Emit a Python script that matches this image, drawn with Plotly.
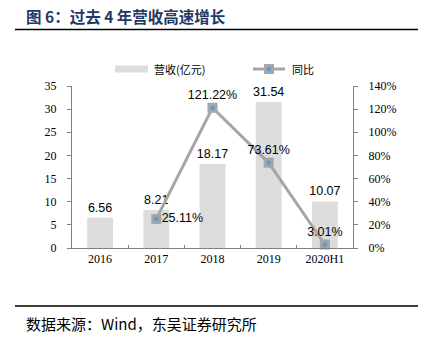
import plotly.graph_objects as go

categories = ["2016", "2017", "2018", "2019", "2020H1"]
revenue = [6.56, 8.21, 18.17, 31.54, 10.07]
yoy = [None, 25.11, 121.22, 73.61, 3.01]
yoy_labels = ["", "25.11%", "121.22%", "73.61%", "3.01%"]
yoy_positions = ["middle right", "middle right", "top center", "top center", "top center"]
left_ticks = [0, 5, 10, 15, 20, 25, 30, 35]
right_ticks = [0, 20, 40, 60, 80, 100, 120, 140]
right_tick_text = [f"{v}%" for v in right_ticks]

W, H = 428, 347
L, R, T, B = 72, 353, 86, 248

def px(x):
    return (x - L) / (R - L)

def py(y):
    return (B - y) / (B - T)

SERIF = "Liberation Serif, Times New Roman, serif"
SANS = "Liberation Sans, Arial, sans-serif"
CJK = "Noto Sans CJK SC"

fig = go.Figure()
fig.add_trace(go.Bar(
    x=categories, y=revenue, name="营收(亿元)",
    marker=dict(color="#dcdcdc", line=dict(width=0)),
    width=0.46,
    text=[f"{v:.2f}" for v in revenue], textposition="outside",
    constraintext="none",
    textfont=dict(family=SANS, size=12.5, color="#000000"),
    cliponaxis=False, showlegend=False,
))
fig.add_trace(go.Scatter(
    x=categories, y=yoy, name="同比", yaxis="y2",
    mode="lines+markers+text",
    line=dict(color="#a6a6a6", width=3),
    marker=dict(symbol="square", size=7, color="#5b9bd5",
                line=dict(color="#a6a6a6", width=3)),
    text=yoy_labels, textposition=yoy_positions,
    textfont=dict(family=SANS, size=12.5, color="#000000"),
    cliponaxis=False, showlegend=False,
))

axis_col = "#808080"
fig.update_layout(
    width=W, height=H,
    margin=dict(l=L, r=W - R, t=T, b=H - B),
    paper_bgcolor="white", plot_bgcolor="white",
    bargap=0.54,
    xaxis=dict(type="category", showline=True, linecolor=axis_col, linewidth=1,
               ticks="inside", tickson="boundaries", ticklen=3, tickcolor=axis_col,
               tickfont=dict(family=SERIF, size=12, color="#000"), showgrid=False,
               zeroline=False, range=[-0.5, 4.5]),
    yaxis=dict(range=[0, 35], tickvals=left_ticks, showline=True, linecolor=axis_col,
               linewidth=1, ticks="outside", ticklen=4, tickcolor=axis_col,
               tickfont=dict(family=SERIF, size=12, color="#000"), showgrid=False,
               zeroline=False, ticklabelstandoff=8),
    yaxis2=dict(range=[0, 140], tickvals=right_ticks, ticktext=right_tick_text,
                overlaying="y", side="right", showline=True, linecolor=axis_col,
                linewidth=1, ticks="outside", ticklen=4, tickcolor=axis_col,
                tickfont=dict(family=SERIF, size=12, color="#000"), showgrid=False,
                zeroline=False, ticklabelstandoff=8),
    showlegend=False,
)

shapes = []
annotations = []
# title and rules
annotations.append(dict(xref="paper", yref="paper", x=px(24), y=py(16), xanchor="left",
                        yanchor="middle", showarrow=False,
                        text="<b>图 6：过去 4 年营收高速增长</b>",
                        font=dict(family=CJK, size=15.5, color="#1f3864")))
shapes.append(dict(type="line", xref="paper", yref="paper", x0=px(15), x1=px(418),
                   y0=py(29.5), y1=py(29.5), line=dict(color="#000", width=1.5)))
shapes.append(dict(type="line", xref="paper", yref="paper", x0=px(15), x1=px(418),
                   y0=py(306), y1=py(306), line=dict(color="#000", width=1.5)))
annotations.append(dict(xref="paper", yref="paper", x=px(24), y=py(323), xanchor="left",
                        yanchor="middle", showarrow=False,
                        text="数据来源：Wind，东吴证券研究所",
                        font=dict(family=CJK, size=15, color="#000")))
# legend
shapes.append(dict(type="rect", xref="paper", yref="paper", x0=px(115), x1=px(148),
                   y0=py(72.5), y1=py(65.5), fillcolor="#dcdcdc", line=dict(width=0)))
annotations.append(dict(xref="paper", yref="paper", x=px(152), y=py(69), xanchor="left",
                        yanchor="middle", showarrow=False, text="营收(亿元)",
                        font=dict(family=CJK, size=11, color="#000")))
shapes.append(dict(type="line", xref="paper", yref="paper", x0=px(253), x1=px(285),
                   y0=py(69), y1=py(69), line=dict(color="#a6a6a6", width=3)))
shapes.append(dict(type="rect", xref="paper", yref="paper", x0=px(265.5), x1=px(272.5),
                   y0=py(72.5), y1=py(65.5), fillcolor="#5b9bd5",
                   line=dict(color="#a6a6a6", width=3)))
annotations.append(dict(xref="paper", yref="paper", x=px(290), y=py(69), xanchor="left",
                        yanchor="middle", showarrow=False, text="同比",
                        font=dict(family=CJK, size=11, color="#000")))

fig.update_layout(shapes=shapes, annotations=annotations)
fig.write_html("out.html")
